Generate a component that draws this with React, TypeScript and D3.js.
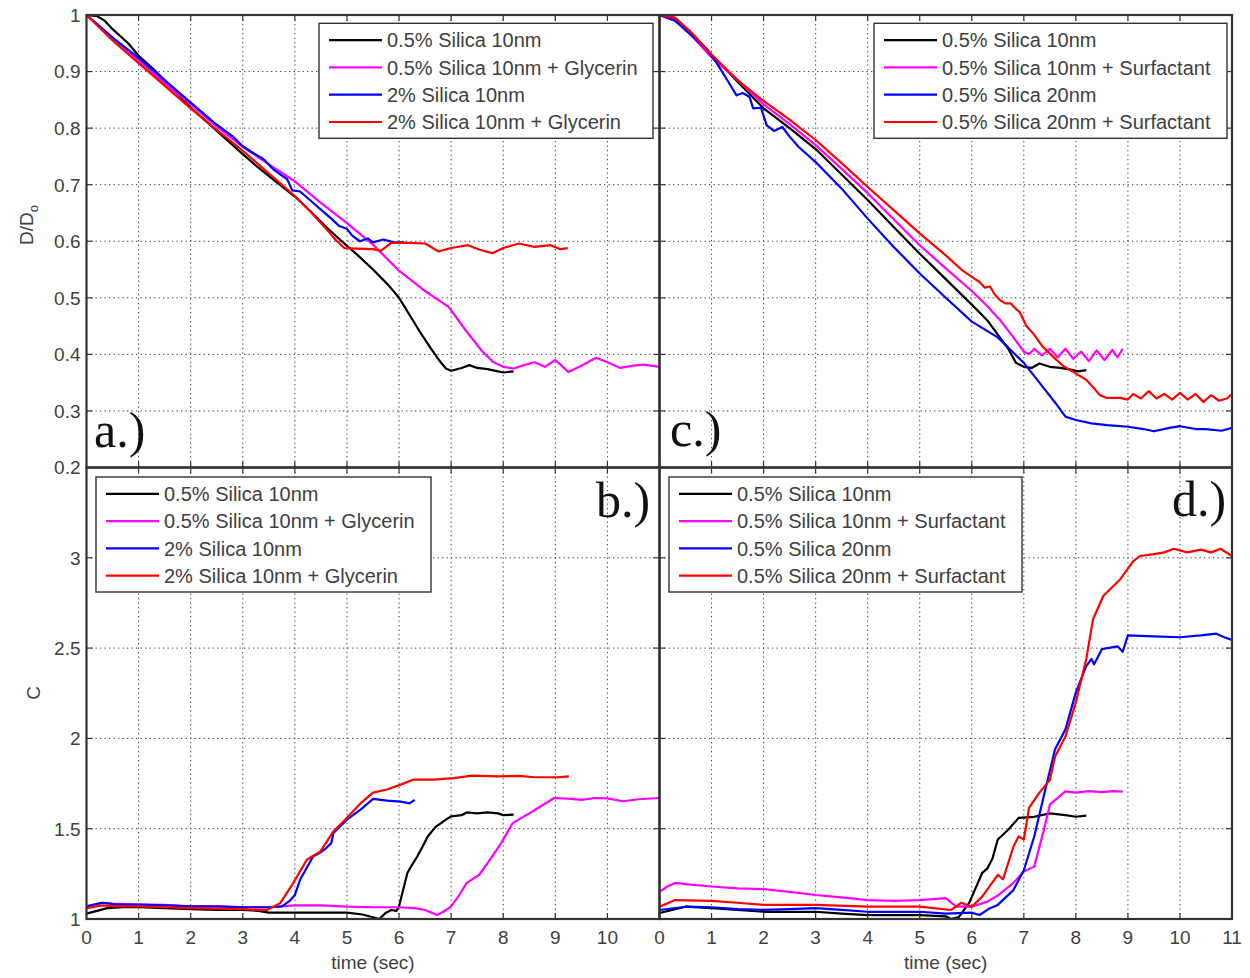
import React from 'react';
import * as d3 from 'd3';

type P = [number, number];

// ---------- categories / labels ----------
const legendGly = ['0.5% Silica 10nm', '0.5% Silica 10nm + Glycerin', '2% Silica 10nm', '2% Silica 10nm + Glycerin'];
const legendSurf = ['0.5% Silica 10nm', '0.5% Silica 10nm + Surfactant', '0.5% Silica 20nm', '0.5% Silica 20nm + Surfactant'];
const seriesColors = ['#000000', '#ff00ff', '#0000ff', '#ff0000'];
const xTickValues = [0, 1, 2, 3, 4, 5, 6, 7, 8, 9, 10, 11];
const xTickLabelsLeft = [0, 1, 2, 3, 4, 5, 6, 7, 8, 9, 10];
const xTickLabelsRight = [0, 1, 2, 3, 4, 5, 6, 7, 8, 9, 10, 11];
const yTicksD = [0.2, 0.3, 0.4, 0.5, 0.6, 0.7, 0.8, 0.9, 1];
const yTicksC = [1, 1.5, 2, 2.5, 3];

// ---------- panel a : D/D0, glycerin ----------
const aBlack: P[] = [[0, 1.0], [0.2, 0.998], [0.35, 0.99], [0.5, 0.975], [0.8, 0.95], [1, 0.928], [1.3, 0.903], [1.6, 0.875], [2, 0.836], [2.3, 0.812], [2.6, 0.787], [3, 0.754], [3.3, 0.73], [3.6, 0.708], [4, 0.679], [4.3, 0.653], [4.6, 0.625], [4.9, 0.6], [5.2, 0.576], [5.5, 0.55], [5.8, 0.522], [6.0, 0.5], [6.2, 0.47], [6.4, 0.44], [6.6, 0.412], [6.8, 0.386], [6.9, 0.375], [7.0, 0.371], [7.2, 0.376], [7.35, 0.381], [7.5, 0.376], [7.7, 0.374], [7.9, 0.37], [8.0, 0.368], [8.2, 0.37]];
const aMagenta: P[] = [[0, 1.0], [0.5, 0.96], [1, 0.92], [1.5, 0.88], [2, 0.842], [2.5, 0.803], [3, 0.767], [3.5, 0.736], [4, 0.706], [4.5, 0.668], [5, 0.632], [5.5, 0.594], [6, 0.548], [6.5, 0.512], [6.95, 0.484], [7.3, 0.44], [7.6, 0.405], [7.8, 0.387], [8.0, 0.378], [8.2, 0.375], [8.4, 0.381], [8.6, 0.386], [8.8, 0.378], [9.0, 0.39], [9.25, 0.369], [9.5, 0.38], [9.78, 0.394], [10.0, 0.386], [10.25, 0.376], [10.5, 0.38], [10.7, 0.382], [11, 0.378]];
const aBlue: P[] = [[0, 1.0], [0.5, 0.96], [1, 0.924], [1.5, 0.885], [2, 0.845], [2.5, 0.806], [2.8, 0.786], [3, 0.768], [3.2, 0.756], [3.4, 0.745], [3.6, 0.726], [3.75, 0.716], [3.85, 0.71], [3.95, 0.69], [4.1, 0.688], [4.3, 0.672], [4.5, 0.656], [4.7, 0.64], [4.85, 0.627], [5.0, 0.622], [5.1, 0.61], [5.25, 0.6], [5.4, 0.605], [5.5, 0.598], [5.7, 0.603], [5.9, 0.598], [6.1, 0.598]];
const aRed: P[] = [[0, 1.0], [0.5, 0.955], [1, 0.915], [1.5, 0.875], [2, 0.835], [2.5, 0.797], [3, 0.76], [3.5, 0.72], [4, 0.68], [4.3, 0.652], [4.6, 0.622], [4.8, 0.601], [4.95, 0.588], [5.2, 0.587], [5.5, 0.586], [5.65, 0.583], [5.85, 0.597], [6.2, 0.597], [6.5, 0.596], [6.76, 0.582], [7.0, 0.588], [7.32, 0.593], [7.55, 0.585], [7.79, 0.579], [8.0, 0.588], [8.3, 0.596], [8.6, 0.59], [8.91, 0.593], [9.1, 0.586], [9.24, 0.588]];

// ---------- panel b : C, glycerin ----------
const bBlack: P[] = [[0, 1.03], [0.2, 1.045], [0.4, 1.06], [0.7, 1.065], [1, 1.065], [1.5, 1.06], [2, 1.055], [2.5, 1.05], [3, 1.05], [3.3, 1.045], [3.5, 1.035], [4, 1.035], [4.5, 1.035], [5, 1.035], [5.3, 1.025], [5.5, 1.01], [5.62, 1.0], [5.75, 1.035], [5.85, 1.05], [5.95, 1.045], [6.0, 1.07], [6.16, 1.255], [6.25, 1.3], [6.35, 1.346], [6.45, 1.4], [6.55, 1.457], [6.7, 1.51], [6.8, 1.53], [6.9, 1.55], [7.0, 1.568], [7.2, 1.575], [7.3, 1.59], [7.5, 1.585], [7.7, 1.59], [7.9, 1.585], [8.0, 1.575], [8.2, 1.578]];
const bMagenta: P[] = [[0, 1.07], [0.15, 1.08], [0.3, 1.09], [0.5, 1.085], [1, 1.08], [1.5, 1.078], [2, 1.07], [2.5, 1.07], [3, 1.065], [3.5, 1.065], [4, 1.075], [4.5, 1.075], [5, 1.068], [5.5, 1.065], [6, 1.065], [6.3, 1.06], [6.5, 1.05], [6.73, 1.022], [6.85, 1.04], [7.0, 1.07], [7.15, 1.13], [7.3, 1.2], [7.54, 1.245], [7.75, 1.33], [7.96, 1.42], [8.18, 1.53], [8.35, 1.56], [8.53, 1.59], [8.75, 1.63], [8.98, 1.67], [9.3, 1.665], [9.5, 1.66], [9.75, 1.67], [10.0, 1.668], [10.3, 1.652], [10.6, 1.663], [11, 1.67]];
const bBlue: P[] = [[0, 1.07], [0.3, 1.09], [0.6, 1.08], [1, 1.08], [1.5, 1.075], [2, 1.07], [2.5, 1.07], [3, 1.065], [3.5, 1.065], [3.75, 1.07], [3.9, 1.1], [4.0, 1.133], [4.1, 1.217], [4.35, 1.346], [4.5, 1.37], [4.6, 1.393], [4.7, 1.42], [4.74, 1.476], [5.0, 1.55], [5.26, 1.605], [5.5, 1.665], [5.77, 1.655], [6.03, 1.65], [6.2, 1.64], [6.3, 1.66]];
const bRed: P[] = [[0, 1.06], [0.3, 1.075], [0.6, 1.07], [1, 1.07], [1.5, 1.065], [2, 1.06], [2.5, 1.057], [3, 1.055], [3.3, 1.05], [3.46, 1.05], [3.72, 1.088], [3.97, 1.2], [4.23, 1.328], [4.49, 1.374], [4.74, 1.485], [5.0, 1.56], [5.26, 1.64], [5.5, 1.7], [5.77, 1.717], [6.03, 1.744], [6.28, 1.772], [6.67, 1.772], [7.05, 1.78], [7.4, 1.794], [7.9, 1.79], [8.3, 1.792], [8.6, 1.785], [9.05, 1.785], [9.26, 1.79]];

// ---------- panel c : D/D0, surfactant ----------
const cBlack: P[] = [[0, 1.0], [0.3, 0.995], [0.6, 0.97], [1, 0.93], [1.5, 0.882], [2, 0.835], [2.5, 0.8], [3, 0.763], [3.5, 0.718], [4, 0.673], [4.5, 0.625], [5, 0.578], [5.5, 0.533], [6, 0.488], [6.3, 0.46], [6.5, 0.435], [6.7, 0.41], [6.85, 0.385], [7.0, 0.378], [7.15, 0.376], [7.3, 0.384], [7.5, 0.378], [7.7, 0.376], [7.9, 0.373], [8.05, 0.37], [8.2, 0.372]];
const cMagenta: P[] = [[0, 1.0], [0.3, 0.99], [0.6, 0.965], [1, 0.925], [1.5, 0.885], [2, 0.842], [2.5, 0.807], [3, 0.77], [3.5, 0.728], [4, 0.685], [4.5, 0.639], [5, 0.593], [5.5, 0.552], [6, 0.512], [6.3, 0.485], [6.55, 0.46], [6.8, 0.43], [7.0, 0.405], [7.1, 0.4], [7.2, 0.41], [7.35, 0.398], [7.5, 0.41], [7.65, 0.395], [7.8, 0.41], [7.95, 0.392], [8.1, 0.405], [8.25, 0.388], [8.4, 0.407], [8.55, 0.39], [8.7, 0.408], [8.8, 0.395], [8.9, 0.41]];
const cBlue: P[] = [[0, 1.0], [0.3, 0.99], [0.6, 0.965], [0.9, 0.94], [1.1, 0.915], [1.3, 0.885], [1.48, 0.858], [1.6, 0.862], [1.73, 0.855], [1.8, 0.835], [1.95, 0.836], [2.06, 0.805], [2.2, 0.795], [2.36, 0.802], [2.5, 0.785], [2.67, 0.767], [3.0, 0.74], [3.5, 0.693], [4, 0.64], [4.5, 0.59], [5, 0.543], [5.5, 0.5], [6, 0.458], [6.5, 0.43], [7.0, 0.385], [7.3, 0.35], [7.6, 0.315], [7.8, 0.29], [8.0, 0.284], [8.3, 0.278], [8.6, 0.275], [9.0, 0.272], [9.3, 0.268], [9.5, 0.264], [9.8, 0.27], [10.0, 0.273], [10.3, 0.268], [10.5, 0.268], [10.8, 0.265], [11, 0.27]];
const cRed: P[] = [[0, 1.0], [0.3, 0.995], [0.6, 0.97], [1, 0.93], [1.5, 0.885], [2, 0.848], [2.5, 0.815], [3, 0.779], [3.5, 0.738], [4, 0.696], [4.5, 0.655], [5, 0.614], [5.5, 0.575], [5.8, 0.55], [6.0, 0.537], [6.15, 0.528], [6.25, 0.518], [6.35, 0.52], [6.45, 0.505], [6.54, 0.496], [6.65, 0.49], [6.75, 0.49], [6.85, 0.48], [6.92, 0.475], [7.05, 0.45], [7.18, 0.437], [7.35, 0.415], [7.56, 0.396], [7.75, 0.38], [7.95, 0.369], [8.2, 0.355], [8.35, 0.34], [8.46, 0.328], [8.6, 0.323], [8.85, 0.323], [9.0, 0.32], [9.1, 0.33], [9.25, 0.322], [9.4, 0.335], [9.55, 0.322], [9.7, 0.33], [9.85, 0.32], [10.0, 0.332], [10.15, 0.32], [10.3, 0.33], [10.45, 0.316], [10.6, 0.328], [10.75, 0.318], [10.9, 0.322], [11, 0.33]];

// ---------- panel d : C, surfactant ----------
const dBlack: P[] = [[0, 1.033], [0.5, 1.068], [1, 1.06], [1.5, 1.05], [2, 1.04], [2.5, 1.04], [3, 1.04], [3.5, 1.03], [4, 1.022], [4.5, 1.022], [5, 1.022], [5.5, 1.015], [5.6, 1.0], [5.75, 1.01], [5.95, 1.089], [6.2, 1.255], [6.3, 1.28], [6.4, 1.337], [6.5, 1.44], [6.7, 1.494], [6.9, 1.56], [7.2, 1.566], [7.5, 1.585], [7.8, 1.575], [8.0, 1.566], [8.2, 1.572]];
const dMagenta: P[] = [[0, 1.15], [0.15, 1.18], [0.3, 1.2], [0.6, 1.19], [1, 1.18], [1.5, 1.17], [2, 1.165], [2.5, 1.15], [3, 1.133], [3.5, 1.12], [4, 1.105], [4.5, 1.1], [5, 1.105], [5.5, 1.116], [5.7, 1.068], [6, 1.068], [6.3, 1.096], [6.5, 1.13], [6.8, 1.2], [7.0, 1.263], [7.2, 1.29], [7.4, 1.51], [7.5, 1.633], [7.8, 1.707], [8.0, 1.7], [8.25, 1.708], [8.5, 1.703], [8.7, 1.708], [8.9, 1.705]];
const dBlue: P[] = [[0, 1.05], [0.5, 1.068], [1, 1.065], [1.5, 1.055], [2, 1.05], [2.5, 1.055], [3, 1.06], [3.5, 1.05], [4, 1.04], [4.5, 1.04], [5, 1.04], [5.5, 1.03], [6.0, 1.035], [6.15, 1.022], [6.35, 1.06], [6.5, 1.078], [6.8, 1.16], [7.0, 1.27], [7.2, 1.457], [7.4, 1.7], [7.6, 1.94], [7.8, 2.05], [8.0, 2.255], [8.2, 2.4], [8.3, 2.44], [8.35, 2.41], [8.5, 2.494], [8.8, 2.51], [8.9, 2.48], [9.0, 2.57], [9.5, 2.565], [10, 2.56], [10.4, 2.57], [10.7, 2.58], [10.85, 2.56], [11, 2.545]];
const dRed: P[] = [[0, 1.068], [0.3, 1.105], [1, 1.1], [1.5, 1.09], [2, 1.078], [3, 1.078], [4, 1.068], [5, 1.068], [5.6, 1.05], [5.8, 1.09], [6.0, 1.068], [6.2, 1.124], [6.5, 1.244], [6.6, 1.22], [6.8, 1.40], [6.9, 1.457], [7.0, 1.44], [7.1, 1.615], [7.3, 1.70], [7.5, 1.77], [7.6, 1.9], [7.8, 2.01], [8.0, 2.2], [8.2, 2.44], [8.33, 2.66], [8.53, 2.79], [8.85, 2.88], [9.1, 2.98], [9.23, 3.01], [9.5, 3.02], [9.7, 3.03], [9.88, 3.05], [10.14, 3.03], [10.4, 3.045], [10.6, 3.03], [10.78, 3.05], [11, 3.01]];

const SANS = "'Liberation Sans', Arial, 'DejaVu Sans', sans-serif";
const SERIF = "'Liberation Serif', 'Times New Roman', serif";
const TXT = '#404040';

interface PanelProps {
  id: string;
  left: number; right: number; top: number; bottom: number;
  yDomain: [number, number];
  yTicks: number[];
  yLabels: boolean;
  xLabels: number[] | null;
  series: P[][];
  legend: string[];
  legendBox: { x: number; y: number; w: number };
  tag: string;
  tagPos: [number, number];
}

function Panel(p: PanelProps) {
  const x = d3.scaleLinear().domain([0, 11]).range([p.left, p.right]);
  const y = d3.scaleLinear().domain(p.yDomain).range([p.bottom, p.top]);
  const line = d3.line<P>().x(d => x(d[0])).y(d => y(d[1]));
  const tick = 6;
  const lb = p.legendBox;
  const rowGap = 27.3;
  return (
    <g>
      <defs>
        <clipPath id={'clip-' + p.id}>
          <rect x={p.left} y={p.top} width={p.right - p.left} height={p.bottom - p.top} />
        </clipPath>
      </defs>
      {/* grid */}
      <g stroke="#3a3a3a" strokeWidth={1} strokeDasharray="1.3,3.2">
        {xTickValues.slice(1, -1).map(t => (
          <line key={'gx' + t} x1={x(t)} x2={x(t)} y1={p.top} y2={p.bottom} />
        ))}
        {p.yTicks.filter(v => v !== p.yDomain[0] && v !== p.yDomain[1]).map(v => (
          <line key={'gy' + v} x1={p.left} x2={p.right} y1={y(v)} y2={y(v)} />
        ))}
      </g>
      {/* series */}
      <g clipPath={`url(#clip-${p.id})`} fill="none" strokeWidth={2.2} strokeLinejoin="round">
        {p.series.map((s, i) => (
          <path key={i} d={line(s) || ''} stroke={seriesColors[i]} />
        ))}
      </g>
      {/* ticks */}
      <g stroke="#333" strokeWidth={1.2}>
        {xTickValues.map(t => (
          <g key={'tx' + t}>
            <line x1={x(t)} x2={x(t)} y1={p.bottom} y2={p.bottom - tick} />
            <line x1={x(t)} x2={x(t)} y1={p.top} y2={p.top + tick} />
          </g>
        ))}
        {p.yTicks.map(v => (
          <g key={'ty' + v}>
            <line x1={p.left} x2={p.left + tick} y1={y(v)} y2={y(v)} />
            <line x1={p.right} x2={p.right - tick} y1={y(v)} y2={y(v)} />
          </g>
        ))}
      </g>
      {/* frame */}
      <rect x={p.left} y={p.top} width={p.right - p.left} height={p.bottom - p.top} fill="none" stroke="#333" strokeWidth={2.2} />
      {/* tick labels */}
      {p.yLabels && p.yTicks.map(v => (
        <text key={'ly' + v} x={p.left - 6} y={y(v)} dy="0.36em" textAnchor="end" fontFamily={SANS} fontSize={19} fill={TXT}>
          {String(v)}
        </text>
      ))}
      {p.xLabels && p.xLabels.map(t => (
        <text key={'lx' + t} x={x(t)} y={p.bottom + 25} textAnchor="middle" fontFamily={SANS} fontSize={19} fill={TXT}>
          {String(t)}
        </text>
      ))}
      {/* legend */}
      <g>
        <rect x={lb.x} y={lb.y} width={lb.w} height={115} fill="#fff" stroke="#333" strokeWidth={1.4} />
        {p.legend.map((name, i) => {
          const cy = lb.y + 16.8 + i * rowGap;
          return (
            <g key={name}>
              <line x1={lb.x + 10} x2={lb.x + 63} y1={cy} y2={cy} stroke={seriesColors[i]} strokeWidth={2.2} />
              <text x={lb.x + 68} y={cy} dy="0.36em" fontFamily={SANS} fontSize={20} fill={TXT}>{name}</text>
            </g>
          );
        })}
      </g>
      <text x={p.tagPos[0]} y={p.tagPos[1]} fontFamily={SERIF} fontSize={50} fill="#111">{p.tag}</text>
    </g>
  );
}

export default function App() {
  const L = 86.5, M = 659.5, R = 1232, T = 15, Mid = 467.5, B = 919;
  return (
    <svg width={1250} height={978} viewBox="0 0 1250 978" style={{ position: 'absolute', left: 0, top: 0, display: 'block', background: '#fff' }}>
      <rect x={0} y={0} width={1250} height={978} fill="#fff" />
      <Panel id="a" left={L} right={M} top={T} bottom={Mid} yDomain={[0.2, 1]} yTicks={yTicksD} yLabels={true} xLabels={null}
        series={[aBlack, aMagenta, aBlue, aRed]} legend={legendGly} legendBox={{ x: 319, y: 23.3, w: 334 }} tag="a.)" tagPos={[94, 447]} />
      <Panel id="b" left={L} right={M} top={Mid} bottom={B} yDomain={[1, 3.5]} yTicks={yTicksC} yLabels={true} xLabels={xTickLabelsLeft}
        series={[bBlack, bMagenta, bBlue, bRed]} legend={legendGly} legendBox={{ x: 96, y: 477, w: 335 }} tag="b.)" tagPos={[596, 517]} />
      <Panel id="c" left={M} right={R} top={T} bottom={Mid} yDomain={[0.2, 1]} yTicks={yTicksD} yLabels={false} xLabels={null}
        series={[cBlack, cMagenta, cBlue, cRed]} legend={legendSurf} legendBox={{ x: 874, y: 23.3, w: 353 }} tag="c.)" tagPos={[670, 446]} />
      <Panel id="d" left={M} right={R} top={Mid} bottom={B} yDomain={[1, 3.5]} yTicks={yTicksC} yLabels={false} xLabels={xTickLabelsRight}
        series={[dBlack, dMagenta, dBlue, dRed]} legend={legendSurf} legendBox={{ x: 669, y: 477, w: 353 }} tag="d.)" tagPos={[1172, 516]} />
      {/* axis titles */}
      <text transform="translate(33,225) rotate(-90)" textAnchor="middle" fontFamily={SANS} fontSize={19} fill={TXT}>
        D/D<tspan fontSize={13} dy="5">o</tspan>
      </text>
      <text transform="translate(40,693) rotate(-90)" textAnchor="middle" fontFamily={SANS} fontSize={19} fill={TXT}>C</text>
      <text x={(L + M) / 2} y={969} textAnchor="middle" fontFamily={SANS} fontSize={19} fill={TXT}>time (sec)</text>
      <text x={(M + R) / 2} y={969} textAnchor="middle" fontFamily={SANS} fontSize={19} fill={TXT}>time (sec)</text>
    </svg>
  );
}
